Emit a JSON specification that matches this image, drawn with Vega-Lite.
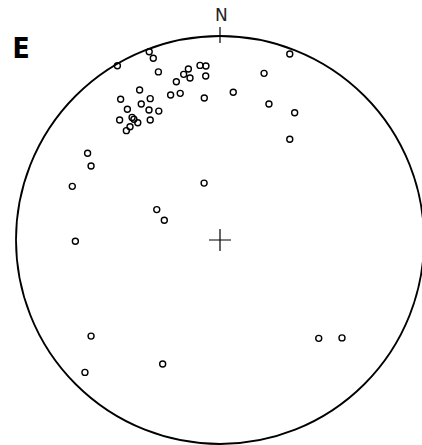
{
  "$schema": "https://vega.github.io/schema/vega-lite/v6.json",
  "width": 422,
  "height": 445,
  "padding": 0,
  "autosize": {"type": "none"},
  "background": "white",
  "config": {"view": {"stroke": null}},
  "datasets": {
    "poles": [
      {"x": -0.503, "y": 0.854}, {"x": -0.347, "y": 0.923}, {"x": -0.327, "y": 0.891},
      {"x": -0.302, "y": 0.824}, {"x": -0.155, "y": 0.838}, {"x": -0.178, "y": 0.812},
      {"x": -0.147, "y": 0.794}, {"x": -0.098, "y": 0.856}, {"x": -0.069, "y": 0.853},
      {"x": -0.070, "y": 0.804}, {"x": -0.214, "y": 0.776}, {"x": -0.242, "y": 0.711},
      {"x": -0.195, "y": 0.719}, {"x": -0.077, "y": 0.696}, {"x": 0.065, "y": 0.724},
      {"x": -0.394, "y": 0.735}, {"x": -0.487, "y": 0.690}, {"x": -0.342, "y": 0.693},
      {"x": -0.386, "y": 0.667}, {"x": -0.454, "y": 0.641}, {"x": -0.348, "y": 0.637},
      {"x": -0.300, "y": 0.632}, {"x": -0.431, "y": 0.601}, {"x": -0.422, "y": 0.592},
      {"x": -0.492, "y": 0.588}, {"x": -0.403, "y": 0.575}, {"x": -0.342, "y": 0.588},
      {"x": -0.441, "y": 0.555}, {"x": -0.459, "y": 0.536}, {"x": 0.342, "y": 0.912},
      {"x": 0.216, "y": 0.817}, {"x": 0.240, "y": 0.667}, {"x": 0.366, "y": 0.624},
      {"x": 0.342, "y": 0.494}, {"x": -0.649, "y": 0.425}, {"x": -0.632, "y": 0.363},
      {"x": -0.724, "y": 0.263}, {"x": -0.078, "y": 0.279}, {"x": -0.310, "y": 0.149},
      {"x": -0.273, "y": 0.097}, {"x": -0.709, "y": -0.006}, {"x": -0.632, "y": -0.471},
      {"x": -0.662, "y": -0.649}, {"x": -0.281, "y": -0.608}, {"x": 0.484, "y": -0.482},
      {"x": 0.598, "y": -0.480}
    ],
    "center": [{"x": 0, "y": 0}],
    "north": [{"x": 0, "y": 1.005}],
    "labelN": [{"x": 0.007, "y": 1.1, "label": "N"}],
    "labelE": [{"x": -0.975, "y": 0.93, "label": "E"}]
  },
  "encoding": {
    "x": {"field": "x", "type": "quantitative", "scale": {"domain": [-1.0784, 0.9902], "nice": false, "zero": false}, "axis": null},
    "y": {"field": "y", "type": "quantitative", "scale": {"domain": [-1.0049, 1.1765], "nice": false, "zero": false}, "axis": null}
  },
  "layer": [
    {
      "data": {"name": "center"},
      "mark": {"type": "point", "shape": "circle", "size": 166464, "filled": false, "stroke": "black", "strokeWidth": 1.8, "opacity": 1}
    },
    {
      "data": {"name": "center"},
      "mark": {"type": "point", "shape": "M-1,0H1M0,-1V1", "size": 484, "filled": false, "stroke": "black", "strokeWidth": 1.2, "opacity": 1}
    },
    {
      "data": {"name": "north"},
      "mark": {"type": "point", "shape": "M0,-1V1", "size": 256, "filled": false, "stroke": "black", "strokeWidth": 1.2, "opacity": 1}
    },
    {
      "data": {"name": "poles"},
      "mark": {"type": "point", "shape": "circle", "size": 36, "filled": false, "stroke": "black", "strokeWidth": 1.4, "opacity": 1}
    },
    {
      "data": {"name": "labelN"},
      "mark": {"type": "text", "align": "center", "baseline": "middle", "font": "DejaVu Sans", "fontSize": 17, "fontWeight": "normal", "color": "#222"},
      "encoding": {"text": {"field": "label"}}
    },
    {
      "data": {"name": "labelE"},
      "mark": {"type": "text", "align": "center", "baseline": "middle", "font": "DejaVu Sans Condensed", "fontSize": 28, "fontWeight": "bold", "color": "black"},
      "encoding": {"text": {"field": "label"}}
    }
  ]
}
